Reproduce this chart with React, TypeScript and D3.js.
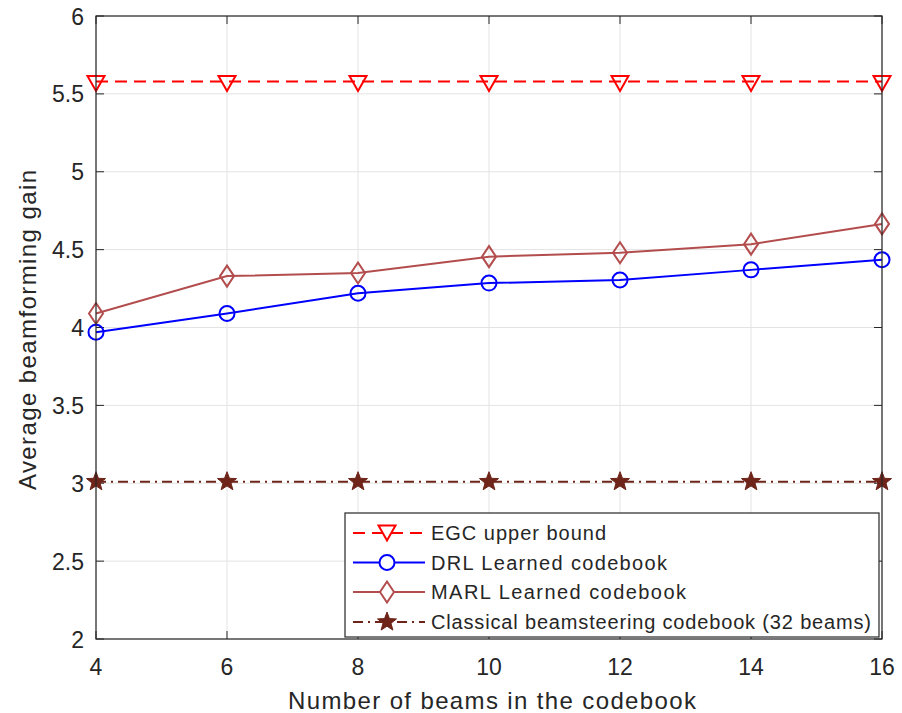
import React from "react";
import * as d3 from "d3";

const beams = [4, 6, 8, 10, 12, 14, 16];
const egc = [5.58, 5.58, 5.58, 5.58, 5.58, 5.58, 5.58];
const drl = [3.97, 4.09, 4.22, 4.285, 4.305, 4.37, 4.435];
const marl = [4.09, 4.33, 4.35, 4.455, 4.48, 4.535, 4.665];
const classical = [3.01, 3.01, 3.01, 3.01, 3.01, 3.01, 3.01];
const xTicks = [4, 6, 8, 10, 12, 14, 16];
const yTicks = [2, 2.5, 3, 3.5, 4, 4.5, 5, 5.5, 6];
const legendLabels = [
  "EGC upper bound",
  "DRL Learned codebook",
  "MARL Learned codebook",
  "Classical beamsteering codebook (32 beams)",
];
const legendWidths = [175, 236, 255, 440];

const W = 902, H = 713;
const L = 96, R = 882, T = 16, B = 639;
const RED = "#ff0000", BLUE = "#0000ff", MARLC = "#b34d4d", STARC = "#6e2419";
const TXT = "#262626";
const font = "Liberation Sans, Arial, Helvetica, sans-serif";

function tri(x: number, y: number) {
  return `M${x - 8.5},${y - 5.5} L${x + 8.5},${y - 5.5} L${x},${y + 9.5} Z`;
}
function diamond(x: number, y: number) {
  return `M${x},${y - 10.5} L${x + 7},${y} L${x},${y + 10.5} L${x - 7},${y} Z`;
}
function star(x: number, y: number, r = 10) {
  const pts: string[] = [];
  for (let i = 0; i < 10; i++) {
    const a = -Math.PI / 2 + (i * Math.PI) / 5;
    const rr = i % 2 === 0 ? r : r * 0.42;
    pts.push(`${x + rr * Math.cos(a)},${y + rr * Math.sin(a)}`);
  }
  return `M${pts.join("L")}Z`;
}

export default function App() {
  const x = d3.scaleLinear().domain([4, 16]).range([L, R]);
  const y = d3.scaleLinear().domain([2, 6]).range([B, T]);
  const line = (vals: number[]) =>
    d3.line<number>().x((_, i) => x(beams[i])).y((d) => y(d))(vals) || "";

  const legX = 345, legY = 513, legW = 534, legH = 124;
  const rows = [533, 562.5, 592, 622];
  const lx0 = 353, lx1 = 425, lm = 387;
  const dashDot = "10,5,2,5";

  return (
    <svg width={W} height={H} style={{ display: "block", position: "absolute", left: 0, top: 0, background: "#fff" }}>
      <rect x={0} y={0} width={W} height={H} fill="#fff" />
      {xTicks.map((t) => (
        <line key={"gx" + t} x1={x(t)} x2={x(t)} y1={T} y2={B} stroke="#e3e3e3" strokeWidth={1} />
      ))}
      {yTicks.map((t) => (
        <line key={"gy" + t} x1={L} x2={R} y1={y(t)} y2={y(t)} stroke="#e3e3e3" strokeWidth={1} />
      ))}
      {xTicks.map((t) => (
        <g key={"tx" + t}>
          <line x1={x(t)} x2={x(t)} y1={B} y2={B - 8} stroke={TXT} />
          <line x1={x(t)} x2={x(t)} y1={T} y2={T + 8} stroke={TXT} />
          <text x={x(t)} y={675} textAnchor="middle" fontFamily={font} fontSize={23} fill={TXT}>{t}</text>
        </g>
      ))}
      {yTicks.map((t) => (
        <g key={"ty" + t}>
          <line x1={L} x2={L + 8} y1={y(t)} y2={y(t)} stroke={TXT} />
          <line x1={R} x2={R - 8} y1={y(t)} y2={y(t)} stroke={TXT} />
          <text x={84} y={y(t) + 8.5} textAnchor="end" fontFamily={font} fontSize={23} fill={TXT}>{t}</text>
        </g>
      ))}
      <path d={line(classical)} fill="none" stroke={STARC} strokeWidth={2} strokeDasharray={dashDot} />
      {beams.map((b, i) => (
        <path key={"s" + i} d={star(x(b), y(classical[i]))} fill={STARC} stroke={STARC} strokeWidth={1} />
      ))}
      <path d={line(marl)} fill="none" stroke={MARLC} strokeWidth={2} />
      {beams.map((b, i) => (
        <path key={"d" + i} d={diamond(x(b), y(marl[i]))} fill="none" stroke={MARLC} strokeWidth={2} />
      ))}
      <path d={line(drl)} fill="none" stroke={BLUE} strokeWidth={2} />
      {beams.map((b, i) => (
        <circle key={"c" + i} cx={x(b)} cy={y(drl[i])} r={7.5} fill="none" stroke={BLUE} strokeWidth={2} />
      ))}
      <path d={line(egc)} fill="none" stroke={RED} strokeWidth={2} strokeDasharray="12,7" />
      {beams.map((b, i) => (
        <path key={"t" + i} d={tri(x(b), y(egc[i]))} fill="none" stroke={RED} strokeWidth={2} />
      ))}
      <rect x={L} y={T} width={R - L} height={B - T} fill="none" stroke={TXT} strokeWidth={1.2} />
      <rect x={legX} y={legY} width={legW} height={legH} fill="#fff" stroke={TXT} strokeWidth={1.2} />
      <line x1={lx0} x2={lx1} y1={rows[0]} y2={rows[0]} stroke={RED} strokeWidth={2} strokeDasharray="12,7" />
      <path d={tri(lm, rows[0] - 2)} fill="#fff" stroke={RED} strokeWidth={2} />
      <line x1={lx0} x2={lx1} y1={rows[1]} y2={rows[1]} stroke={BLUE} strokeWidth={2} />
      <circle cx={lm} cy={rows[1]} r={7.5} fill="#fff" stroke={BLUE} strokeWidth={2} />
      <line x1={lx0} x2={lx1} y1={rows[2]} y2={rows[2]} stroke={MARLC} strokeWidth={2} />
      <path d={diamond(lm, rows[2])} fill="#fff" stroke={MARLC} strokeWidth={2} />
      <line x1={lx0} x2={lx1} y1={rows[3]} y2={rows[3]} stroke={STARC} strokeWidth={2} strokeDasharray={dashDot} />
      <path d={star(lm, rows[3])} fill={STARC} stroke={STARC} strokeWidth={1} />
      {legendLabels.map((lab, i) => (
        <text key={lab} x={431} y={rows[i] + 7} fontFamily={font} fontSize={20} fill={TXT}
          textLength={legendWidths[i]} lengthAdjust="spacing">{lab}</text>
      ))}
      <text x={492} y={709} textAnchor="middle" fontFamily={font} fontSize={24} fill={TXT}
        textLength={408} lengthAdjust="spacing">
        Number of beams in the codebook
      </text>
      <text transform={`translate(36,${330}) rotate(-90)`} textAnchor="middle" fontFamily={font} fontSize={24} fill={TXT}
        textLength={320} lengthAdjust="spacing">
        Average beamforming gain
      </text>
    </svg>
  );
}
